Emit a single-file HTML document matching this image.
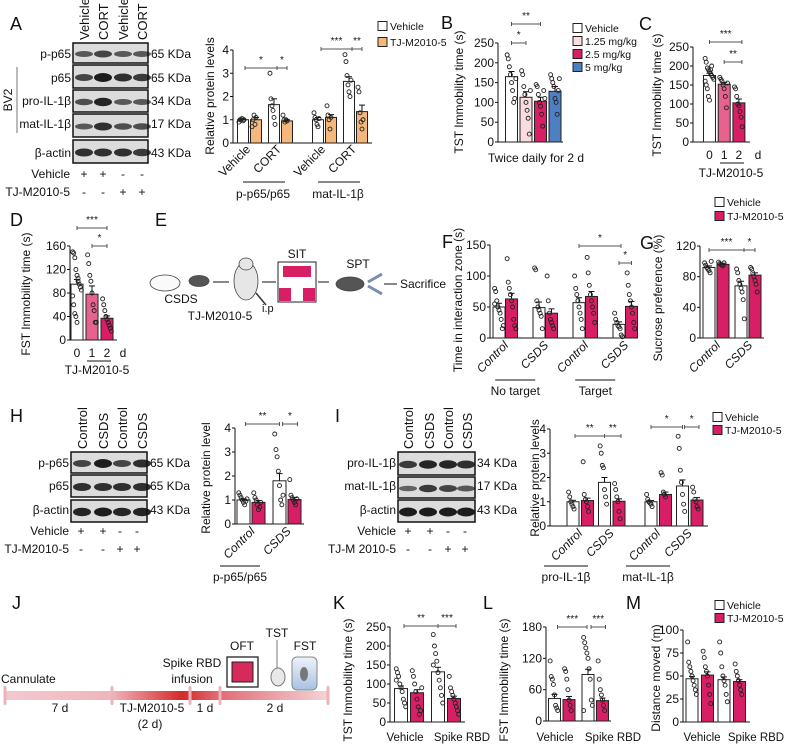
<!DOCTYPE html>
<html><head><meta charset="utf-8">
<style>
html,body{margin:0;padding:0;background:#fff;}
svg{display:block;font-family:"Liberation Sans",Arial,sans-serif;}
</style></head>
<body>
<svg id="fig" width="787" height="744" viewBox="0 0 787 744" xmlns="http://www.w3.org/2000/svg">
<defs>
<linearGradient id="tl" x1="0" x2="1" y1="0" y2="0">
<stop offset="0" stop-color="#f3c9cf"/><stop offset="0.33" stop-color="#f0b5bd"/><stop offset="0.55" stop-color="#d42a2a"/><stop offset="0.66" stop-color="#e06a74"/><stop offset="1" stop-color="#f5d3d8"/>
</linearGradient>
<linearGradient id="cyl" x1="0" x2="0" y1="0" y2="1"><stop offset="0" stop-color="#eef3fb"/><stop offset="1" stop-color="#a9c1e3"/></linearGradient>
</defs>
</svg>
<script>
// ---------- DATA ----------
const catA = ["Vehicle","CORT","Vehicle","CORT"];
const groupsA = ["p-p65/p65","mat-IL-1β"];
const valsA = [1.0,1.0,1.65,0.95,1.0,1.1,2.65,1.35];
const errA = [0.03,0.1,0.25,0.05,0.1,0.12,0.2,0.28];
const dotsA = [[0.9,1,1,1.05,0.95,1.0],[0.7,1.0,1.2,0.8,1.1],[3.0,1.9,1.6,1.4,1.1,0.8],[1.2,1.0,0.9,1.0,0.95],[1.3,1.1,1.0,0.8,0.7,1.05],[1.6,1.2,1.0,0.6,1.1],[3.8,3.5,2.9,2.5,2.2,2.0,2.7],[2.4,2.2,1.3,0.9,0.6,1.0]];
const ticksA = [0,1,2,3,4];

const catB = ["Vehicle","1.25 mg/kg","2.5 mg/kg","5 mg/kg"];
const valsB = [165,113,103,128];
const errB = [13,14,10,12];
const dotsB = [[220,210,190,170,150,130,100,110,160],[180,170,140,120,100,80,60,20,130],[145,140,120,100,90,70,40,130,110],[170,160,150,140,110,100,70,130,160]];
const ticksB = [0,50,100,150,200,250];

const catC = ["0","1","2"];
const valsC = [175,152,103];
const errC = [6,5,10];
const dotsC = [[220,210,195,190,185,180,175,170,165,160,150,140,120,110,190,200],[170,165,160,150,140,120,90,155],[145,140,120,100,95,80,65,40]];
const ticksC = [0,50,100,150,200,250];

const catD = ["0","1","2"];
const valsD = [95,78,37];
const errD = [8,14,4];
const dotsD = [[150,148,140,120,110,100,95,90,85,75,60,45,40,30,105],[145,130,110,100,80,60,50,30,30],[70,60,50,40,35,30,25,20,15]];
const ticksD = [0,40,80,120,160];

const catF = ["Control","CSDS","Control","CSDS"];
const groupsF = ["No target","Target"];
const valsF = [50,63,49,40,57,67,22,51];
const errF = [6,9,9,7,8,8,4,8];
const dotsF = [[80,75,60,50,45,40,30,15,20,55],[128,90,80,70,60,50,30,20,15],[113,110,60,50,45,40,35,15],[100,60,40,30,25,20,15],[100,80,70,60,50,40,30,15],[130,105,85,70,60,50,40,25],[40,30,25,20,18,15,5,2],[105,85,70,60,50,40,25,15]];
const ticksF = [0,50,100,150];

const catG = ["Control","CSDS"];
const valsG = [92,96,68,82];
const errG = [2,1.5,6,3];
const dotsG = [[98,95,92,90,88,85,100],[99,97,96,95,94,98],[90,85,75,70,65,60,50,25],[92,90,85,80,75,70,60]];
const ticksG = [0,40,80,120];

const catH = ["Control","CSDS"];
const valsH = [1.0,0.9,1.8,1.02];
const errH = [0.05,0.08,0.3,0.08];
const dotsH = [[1.3,1.2,1.1,1.0,0.9,0.8,0.95,1.05],[1.3,1.1,1.0,0.8,0.6,0.7,0.9],[3.75,3.1,2.8,2.2,1.6,1.0,0.8,1.2],[1.85,1.2,1.1,1.0,0.9,0.8,1.05]];
const ticksH = [0,1,2,3,4];

const catI = ["Control","CSDS","Control","CSDS"];
const groupsI = ["pro-IL-1β","mat-IL-1β"];
const valsI = [1.0,1.05,1.8,1.02,1.0,1.3,1.65,1.07];
const errI = [0.06,0.1,0.2,0.1,0.05,0.1,0.25,0.1];
const dotsI = [[1.4,1.2,1.0,0.9,0.8,0.7],[2.65,1.3,1.1,1.0,0.8,0.6],[3.3,3.0,2.5,2.4,1.5,1.2,0.9],[1.75,1.5,1.2,1.0,0.6,0.3],[1.3,1.1,1.0,0.95,0.9,0.8],[2.2,2.1,1.4,1.3,1.2],[3.7,3.2,2.3,1.8,1.3,0.9,0.6],[1.6,1.4,1.1,1.0,0.8,0.7]];
const ticksI = [0,1,2,3,4];

const catK = ["Vehicle","Spike RBD"];
const valsK = [88,77,132,62];
const errK = [7,8,12,6];
const dotsK = [[140,130,120,100,90,80,60,50,40,110],[135,120,100,80,60,40,20,30,90],[230,200,180,160,130,110,90,70,50,150],[120,90,80,70,60,50,40,30,20]];
const ticksK = [0,50,100,150,200,250];

const catL = ["Vehicle","Spike RBD"];
const valsL = [43,41,89,39];
const errL = [8,6,10,5];
const dotsL = [[115,85,80,70,50,30,25,20],[100,95,80,60,40,30,20],[160,150,140,130,120,100,80,40,30,20],[115,80,60,50,40,30,20]];
const ticksL = [0,60,120,180];

const catM = ["Vehicle","Spike RBD"];
const valsM = [47,51,46,44];
const errM = [2.5,3.5,3,2];
const dotsM = [[87,65,60,55,50,45,40,35,30],[77,70,60,55,50,40,30,20],[87,75,60,50,45,40,30,22],[63,55,50,45,40,35,30]];
const ticksM = [0,25,50,75,100];

// ---------- HELPERS ----------
const NS = "http://www.w3.org/2000/svg";
const svg = document.getElementById("fig");
function mk(tag, parent){ const e=document.createElementNS(NS,tag); (parent||svg).appendChild(e); return e; }
function txt(x,y,s,size,anchor,parent,extra){
  const t=mk("text",parent); t.setAttribute("x",x); t.setAttribute("y",y);
  t.setAttribute("font-size",size||11); t.setAttribute("text-anchor",anchor||"start"); t.setAttribute("fill","#111");
  if(extra){ for(const k in extra) t.setAttribute(k,extra[k]); }
  t.textContent=s; return t;
}
function line(x1,y1,x2,y2,parent,stroke,w){
  const l=mk("line",parent); l.setAttribute("x1",x1);l.setAttribute("y1",y1);l.setAttribute("x2",x2);l.setAttribute("y2",y2);
  l.setAttribute("stroke",stroke||"#111"); l.setAttribute("stroke-width",w||1); return l;
}
function group(name){ const g=mk("g");   return g; }

function barChart(p){
  const g=group(p.name);
  const y=v=>p.y0-v/p.vmax*(p.y0-p.yTop);
  const ya=line(p.ax,p.y0,p.ax,p.yTop,g);
  
  const xa=line(p.ax,p.y0,p.xEnd,p.y0,g);
  
  p.ticks.forEach(t=>{
    line(p.ax-3,y(t),p.ax,y(t),g);
    const tl=txt(p.ax-4,y(t)+4,String(t),p.tickSize||12,"end",g);
    
  });
  p.values.forEach((v,i)=>{
    const cx=p.xFn(i), bw=p.bw;
    const r=mk("rect",g); r.setAttribute("x",cx-bw/2); r.setAttribute("y",y(v)); r.setAttribute("width",bw); r.setAttribute("height",p.y0-y(v));
    r.setAttribute("fill",p.colors[i%p.colors.length]); r.setAttribute("stroke","#222"); r.setAttribute("stroke-width",1);
    
    
    const e=p.errs[i];
    line(cx,y(v),cx,y(v+e),g); line(cx-3,y(v+e),cx+3,y(v+e),g);
    (p.dots[i]||[]).forEach((d,j)=>{
      const c=mk("circle",g); c.setAttribute("cx",cx+(((j*37)%9)-4)*bw/11); c.setAttribute("cy",y(d)); c.setAttribute("r",2);
      c.setAttribute("fill","none"); c.setAttribute("stroke","#222"); c.setAttribute("stroke-width",0.9);
      
    });
  });
  const yt=txt(0,0,p.ytitle,p.titleSize||12,"middle",g,{transform:`translate(${p.ytx},${p.yty}) rotate(-90)`});
  
  return {g,y};
}
function sig(g,x1,x2,yy,label){
  line(x1,yy,x2,yy,g,"#555"); line(x1,yy-2,x1,yy+2,g,"#555"); line(x2,yy-2,x2,yy+2,g,"#555");
  const t=txt((x1+x2)/2,yy-5,label,10,"middle",g);
  
}
function rotLabel(g,x,y,s,italic){
  const t=txt(0,0,s,12,"end",g,{transform:`translate(${x},${y}) rotate(-45)`});
  if(italic) t.setAttribute("font-style","italic");
  
}
function panelLetter(x,y,s){
  const t=txt(x,y,s,18,"start");
  
}
function legend(x,ys,labels,colors){
  const g=group("legend");
  labels.forEach((l,i)=>{
    const r=mk("rect",g); r.setAttribute("x",x); r.setAttribute("y",ys[i]-4.5); r.setAttribute("width",9); r.setAttribute("height",9);
    r.setAttribute("fill",colors[i]); r.setAttribute("stroke","#222");
    
    const t=txt(x+12,ys[i]+4,l,10.5,"start",g);
    
  });
}
function blot(name,x1,x2,rows,lanes,intens){
  const g=group(name);
  rows.forEach((r,ri)=>{
    const b=mk("rect",g); b.setAttribute("x",x1); b.setAttribute("y",r[0]); b.setAttribute("width",x2-x1); b.setAttribute("height",r[1]-r[0]);
    b.setAttribute("fill","#dcdcdc"); b.setAttribute("stroke","#111"); b.setAttribute("stroke-width",1.5);
    
    const mid=(r[0]+r[1])/2;
    lanes.forEach((lx,li)=>{
      const k=intens[ri][li];
      const e=mk("ellipse",g); e.setAttribute("cx",lx); e.setAttribute("cy",mid+1); e.setAttribute("rx",9); e.setAttribute("ry",2+2.5*k);
      e.setAttribute("fill","#111"); e.setAttribute("opacity",0.45+0.5*k);
    });
  });
  return g;
}
const W="#ffffff", P="#d81e64", O="#f6b77a";

// ---------- PANEL A ----------
panelLetter(10,30,"A");
blot("blot-a",73,148,[[43,63],[65,88],[90,112],[114,137],[140,163]],[84,103,123,142],
 [[0.4,0.6,0.4,0.4],[0.6,1,0.8,0.7],[0.5,0.9,0.4,0.4],[0.4,0.8,0.5,0.5],[0.8,0.8,0.8,0.7]]);
(function(){
  const g=group("blot-a-labels");
  ["Vehicle","CORT","Vehicle","CORT"].forEach((s,i)=>{const x=[89,108,128,147][i]; txt(0,0,s,13,"start",g,{transform:`translate(${x},40) rotate(-90)`});});
  ["p-p65","p65","pro-IL-1β","mat-IL-1β","β-actin"].forEach((s,i)=>txt(71,[58,82,105,128,157][i],s,12,"end",g));
  ["65 KDa","65 KDa","34 KDa","17 KDa","43 KDa"].forEach((s,i)=>txt(151,[58,82,105,128,157][i],s,12,"start",g));
  txt(0,0,"BV2",12,"middle",g,{transform:"translate(12,100) rotate(-90)"}); line(17,67,17,133,g,"#777");
  txt(70,178,"Vehicle",12,"end",g); txt(70,196,"TJ-M2010-5",12,"end",g);
  ["+","+","-","-"].forEach((s,i)=>txt([84,103,123,142][i],178,s,12,"middle",g));
  ["-","-","+","+"].forEach((s,i)=>txt([84,103,123,142][i],196,s,12,"middle",g));
})();
const xA=i=>243+(i%2)*13+Math.floor(i/2)*31+Math.floor(i/4)*13;
(function(){
  const c=barChart({name:"chart-a",ax:233,xEnd:372,y0:143,yTop:50,vmax:4,ticks:ticksA,xFn:xA,bw:11,values:valsA,errs:errA,dots:dotsA,colors:[W,O],ytitle:"Relative protein levels",ytx:214,yty:96});
  catA.forEach((s,k)=>rotLabel(c.g,xA(k*2)+8,150,s,false));
  groupsA.forEach((s,gi)=>{const cx=(xA(gi*4)+xA(gi*4+3))/2; line(cx-22,182,cx+20,182,c.g); txt(cx-2,198,s,12,"middle",c.g);});
  sig(c.g,xA(0)+2,xA(2)+3,68,"*"); sig(c.g,xA(2)+3,xA(3),68,"*");
  sig(c.g,xA(4)+3,xA(6)+3,49,"***"); sig(c.g,xA(6)+3,xA(7),49,"**");
})();
legend(378,[26,42],["Vehicle","TJ-M2010-5"],[W,O]);

// ---------- PANEL B ----------
panelLetter(441,29,"B");
const xB=i=>511.5+i*14.5;
(function(){
  const c=barChart({name:"chart-b",ax:498,xEnd:563,y0:142,yTop:43,vmax:250,ticks:ticksB,xFn:xB,bw:12,values:valsB,errs:errB,dots:dotsB,colors:[W,"#f9dbe0","#d81e64","#4e7fc2"],ytitle:"TST Immobility time (s)",ytx:463,yty:92});
  const t=txt(536,162,"Twice daily for 2 d",12,"middle",c.g);
  
  sig(c.g,xB(0),xB(2),24,"**"); sig(c.g,xB(0),xB(1),43,"*");
})();
legend(573,[28,41,54,67],catB,[W,"#f9dbe0","#d81e64","#4e7fc2"]);

// ---------- PANEL C ----------
panelLetter(639,30,"C");
const xC=i=>709.5+i*14.7;
(function(){
  const c=barChart({name:"chart-c",ax:693,xEnd:750,y0:142,yTop:47,vmax:250,ticks:ticksC,xFn:xC,bw:12,values:valsC,errs:errC,dots:dotsC,colors:[W,"#e8628f","#d81e64"],ytitle:"TST Immobility time (s)",ytx:661,yty:95});
  catC.forEach((s,i)=>txt(xC(i),159,s,12,"middle",c.g)); txt(758,159,"d",12,"middle",c.g);
  line(720,163,744,163,c.g); txt(731,177,"TJ-M2010-5",12,"middle",c.g);
  sig(c.g,xC(0),xC(2)+3,42,"***"); sig(c.g,xC(1),xC(2)+3,62,"**");
})();

// ---------- PANEL D ----------
panelLetter(10,226,"D");
const xD=i=>77+i*15;
(function(){
  const c=barChart({name:"chart-d",ax:70,xEnd:117,y0:340,yTop:246,vmax:160,ticks:ticksD,xFn:xD,bw:12,values:valsD,errs:errD,dots:dotsD,colors:[W,"#e8628f","#d81e64"],ytitle:"FST Immobility time (s)",ytx:30,yty:294});
  catD.forEach((s,i)=>txt(xD(i),357,s,12,"middle",c.g)); txt(123,357,"d",12,"middle",c.g);
  line(87,361,111,361,c.g); txt(97,374,"TJ-M2010-5",12,"middle",c.g);
  sig(c.g,xD(0),xD(2),228,"***"); sig(c.g,xD(1),xD(2),246,"*");
})();

// ---------- PANEL E ----------
panelLetter(155,226,"E");
(function(){
  const g=group("experiment-diagram-e");
  function mouse(x,y,w,h,fill){const e=mk("ellipse",g);e.setAttribute("cx",x);e.setAttribute("cy",y);e.setAttribute("rx",w);e.setAttribute("ry",h);e.setAttribute("fill",fill);e.setAttribute("stroke","#444");e.setAttribute("stroke-width",0.8);return e;}
  mouse(165,283,15,8,"#fafafa"); mouse(199,281,10,5.5,"#555");
  line(213,282,229,282,g);
  mouse(246,281,12,19,"#e6e6e6"); mouse(246,264,7,6,"#e6e6e6");
  line(256,293,266,305,g,"#333",1.5);
  txt(181,303,"CSDS",12,"middle",g); txt(220,320,"TJ-M2010-5",12,"middle",g); txt(262,312,"i.p",11,"start",g);
  line(262,282,276,282,g);
  const b=mk("rect",g); b.setAttribute("x",278);b.setAttribute("y",262);b.setAttribute("width",38);b.setAttribute("height",40);b.setAttribute("fill","#fff");b.setAttribute("stroke","#222");
  
  [[283,266,28,11],[279,288,12,13],[303,288,12,13]].forEach(r=>{const q=mk("rect",g);q.setAttribute("x",r[0]);q.setAttribute("y",r[1]);q.setAttribute("width",r[2]);q.setAttribute("height",r[3]);q.setAttribute("fill","#d81e64");});
  txt(297,258,"SIT",12,"middle",g);
  line(318,282,329,282,g);
  mouse(350,284,14,7,"#555"); txt(358,268,"SPT",12,"middle",g);
  line(368,282,382,274,g,"#7a8fb0",3); line(368,286,382,294,g,"#7a8fb0",3);
  line(384,284,397,284,g); txt(400,288,"Sacrifice",12,"start",g);
})();

// ---------- PANEL F ----------
panelLetter(442,248,"F");
const xF=i=>499+(i%2)*12.5+(Math.floor(i/2)%2)*40+Math.floor(i/4)*80;
(function(){
  const c=barChart({name:"chart-f",ax:490,xEnd:638,y0:338,yTop:245,vmax:150,ticks:ticksF,xFn:xF,bw:12,values:valsF,errs:errF,dots:dotsF,colors:[W,P],ytitle:"Time in interaction zone (s)",ytx:462,yty:300});
  [0,1,2,3].forEach(k=>rotLabel(c.g,xF(k*2)+10,346,catF[k],true));
  groupsF.forEach((s,gi)=>{const cx=(xF(gi*4)+xF(gi*4+3))/2-10; line(cx-20,380,cx+20,380,c.g); txt(cx,395,s,12,"middle",c.g);});
  sig(c.g,xF(4),xF(6)+2,246,"*"); sig(c.g,xF(6),xF(7),263,"*");
})();

// ---------- PANEL G ----------
panelLetter(640,249,"G");
const xG=i=>709+(i%2)*14+Math.floor(i/2)*32;
(function(){
  const c=barChart({name:"chart-g",ax:700,xEnd:764,y0:338,yTop:246,vmax:120,ticks:ticksG,xFn:xG,bw:12,values:valsG,errs:errG,dots:dotsG,colors:[W,P],ytitle:"Sucrose preference (%)",ytx:662,yty:298});
  [0,1].forEach(k=>rotLabel(c.g,xG(k*2)+12,346,catG[k],true));
  sig(c.g,xG(0),xG(2)+3,250,"***"); sig(c.g,xG(2)+3,xG(3),250,"*");
})();
legend(715,[202,216],["Vehicle","TJ-M2010-5"],[W,P]);

// ---------- PANEL H ----------
panelLetter(10,422,"H");
blot("blot-h",71,147,[[452,473],[475,497],[500,522]],[82,103,122,142],[[0.6,1,0.6,0.8],[0.8,0.8,0.8,0.8],[0.9,1,0.9,0.9]]);
(function(){
  const g=group("blot-h-labels");
  ["Control","CSDS","Control","CSDS"].forEach((s,i)=>txt(0,0,s,13,"start",g,{transform:`translate(${[87,108,127,147][i]},449) rotate(-90)`}));
  ["p-p65","p65","β-actin"].forEach((s,i)=>txt(69,[467,490,514][i],s,12,"end",g));
  ["65 KDa","65 KDa","43 KDa"].forEach((s,i)=>txt(150,[467,490,514][i],s,12,"start",g));
  txt(69,535,"Vehicle",12,"end",g); txt(69,553,"TJ-M2010-5",12,"end",g);
  ["+","+","-","-"].forEach((s,i)=>txt([81,103,120,137][i],535,s,12,"middle",g));
  ["-","-","+","+"].forEach((s,i)=>txt([81,103,120,137][i],553,s,12,"middle",g));
})();
const xH=i=>243.5+(i%2)*15+Math.floor(i/2)*36;
(function(){
  const c=barChart({name:"chart-h",ax:235,xEnd:304,y0:524,yTop:428,vmax:4,ticks:ticksH,xFn:xH,bw:13,values:valsH,errs:errH,dots:dotsH,colors:[W,P],ytitle:"Relative protein level",ytx:210,yty:478});
  [0,1].forEach(k=>rotLabel(c.g,xH(k*2)+12,532,catH[k],true));
  line(220,566,260,566,c.g); txt(240,581,"p-p65/p65",12,"middle",c.g);
  sig(c.g,xH(0)+2,xH(2),424,"**"); sig(c.g,xH(2)+3,xH(3)+3,424,"*");
})();

// ---------- PANEL I ----------
panelLetter(335,422,"I");
blot("blot-i",398,475,[[452,475],[477,498],[500,522]],[408,428,448,466],[[0.7,0.9,0.9,0.8],[0.3,0.7,0.6,0.4],[1,1,1,1]]);
(function(){
  const g=group("blot-i-labels");
  ["Control","CSDS","Control","CSDS"].forEach((s,i)=>txt(0,0,s,13,"start",g,{transform:`translate(${[413,434,453,472][i]},449) rotate(-90)`}));
  ["pro-IL-1β","mat-IL-1β","β-actin"].forEach((s,i)=>txt(396,[467,490,514][i],s,12,"end",g));
  ["34 KDa","17 KDa","43 KDa"].forEach((s,i)=>txt(477,[467,490,514][i],s,12,"start",g));
  txt(396,535,"Vehicle",12,"end",g); txt(396,553,"TJ-M 2010-5",12,"end",g);
  ["+","+","-","-"].forEach((s,i)=>txt([408,430,448,465][i],535,s,12,"middle",g));
  ["-","-","+","+"].forEach((s,i)=>txt([408,430,448,465][i],553,s,12,"middle",g));
})();
const xI=i=>573+(i%2)*14.5+Math.floor(i/2)*31.5+Math.floor(i/4)*15;
(function(){
  const c=barChart({name:"chart-i",ax:550,xEnd:708,y0:526,yTop:429,vmax:4,ticks:ticksI,xFn:xI,bw:12,values:valsI,errs:errI,dots:dotsI,colors:[W,P],ytitle:"Relative protein levels",ytx:539,yty:478});
  [0,1,2,3].forEach(k=>rotLabel(c.g,xI(k*2)+10,534,catI[k],true));
  groupsI.forEach((s,gi)=>{const cx=[566,648][gi]; line(cx-22,566,cx+22,566,c.g); txt(cx,581,s,12,"middle",c.g);});
  sig(c.g,xI(0)+2,xI(2),436,"**"); sig(c.g,xI(2),xI(3)+2,436,"**");
  sig(c.g,xI(4),xI(6),427,"*"); sig(c.g,xI(6)+2,xI(7)+2,427,"*");
})();
legend(713,[417,430],["Vehicle","TJ-M2010-5"],[W,P]);

// ---------- PANEL J ----------
panelLetter(12,609,"J");
(function(){
  const g=group("timeline-j");
  const r=mk("rect",g); r.setAttribute("x",4);r.setAttribute("y",691);r.setAttribute("width",324);r.setAttribute("height",9);r.setAttribute("fill","url(#tl)");
  
  [5,112,190,220,328].forEach(x=>{const t=mk("rect",g);t.setAttribute("x",x-1.5);t.setAttribute("y",686);t.setAttribute("width",3);t.setAttribute("height",19);t.setAttribute("fill","#eab4bc");t.setAttribute("rx",1.5);});
  txt(1,683,"Cannulate",12,"start",g); txt(60,712,"7 d",12,"middle",g);
  txt(152,712,"TJ-M2010-5",12,"middle",g); txt(150,728,"(2 d)",12,"middle",g);
  txt(205,712,"1 d",12,"middle",g); txt(275,712,"2 d",12,"middle",g);
  txt(192,667,"Spike RBD",12,"middle",g); txt(192,683,"infusion",12,"middle",g);
  const o=mk("rect",g);o.setAttribute("x",227);o.setAttribute("y",657);o.setAttribute("width",31);o.setAttribute("height",30);o.setAttribute("fill","#fff");o.setAttribute("stroke","#222");o.setAttribute("stroke-width",1.3);
  const oi=mk("rect",g);oi.setAttribute("x",232);oi.setAttribute("y",662);oi.setAttribute("width",21);oi.setAttribute("height",20);oi.setAttribute("fill","#d42b5a");oi.setAttribute("stroke","#222");
  txt(242,650,"OFT",12,"middle",g); txt(277,637,"TST",12,"middle",g);
  line(277,640,277,668,g,"#777");
  const m=mk("ellipse",g);m.setAttribute("cx",278);m.setAttribute("cy",677);m.setAttribute("rx",7);m.setAttribute("ry",9);m.setAttribute("fill","#e8e8e8");m.setAttribute("stroke","#777");
  const cy=mk("rect",g);cy.setAttribute("x",292);cy.setAttribute("y",657);cy.setAttribute("width",25);cy.setAttribute("height",33);cy.setAttribute("rx",5);cy.setAttribute("fill","url(#cyl)");cy.setAttribute("stroke","#888");
  const mm=mk("ellipse",g);mm.setAttribute("cx",304);mm.setAttribute("cy",674);mm.setAttribute("rx",4);mm.setAttribute("ry",7);mm.setAttribute("fill","#777");
  txt(305,650,"FST",12,"middle",g);
})();

// ---------- PANEL K ----------
panelLetter(333,609,"K");
const xK=i=>401+(i%2)*16+Math.floor(i/2)*37;
(function(){
  const c=barChart({name:"chart-k",ax:390,xEnd:465,y0:722,yTop:627,vmax:250,ticks:ticksK,xFn:xK,bw:13,values:valsK,errs:errK,dots:dotsK,colors:[W,P],ytitle:"TST Immobility time (s)",ytx:352,yty:680});
  catK.forEach((s,k)=>{const t=txt([405,462][k],741,s,11.5,"middle",c.g); });
  sig(c.g,xK(0)+3,xK(2),626,"**"); sig(c.g,xK(2),xK(3)+2,626,"***");
})();

// ---------- PANEL L ----------
panelLetter(483,609,"L");
const xL=i=>554.5+(i%2)*14.5+Math.floor(i/2)*33.5;
(function(){
  const c=barChart({name:"chart-l",ax:546,xEnd:611,y0:721,yTop:627,vmax:180,ticks:ticksL,xFn:xL,bw:12,values:valsL,errs:errL,dots:dotsL,colors:[W,P],ytitle:"FST Immobility time (s)",ytx:508,yty:680});
  catL.forEach((s,k)=>{const t=txt([555,613][k],741,s,11.5,"middle",c.g); });
  sig(c.g,xL(0)+3,xL(2)-1,627,"***"); sig(c.g,xL(2)+3,xL(3)+3,627,"***");
})();

// ---------- PANEL M ----------
panelLetter(626,609,"M");
const xM=i=>692+(i%2)*15.5+Math.floor(i/2)*32;
(function(){
  const c=barChart({name:"chart-m",ax:683,xEnd:750,y0:722,yTop:630,vmax:100,ticks:ticksM,xFn:xM,bw:12,values:valsM,errs:errM,dots:dotsM,colors:[W,P],ytitle:"Distance moved (m)",ytx:660,yty:678});
  catM.forEach((s,k)=>{const t=txt([702,756][k],741,s,11.5,"middle",c.g); });
})();
legend(715,[605,618],["Vehicle","TJ-M2010-5"],[W,P]);
</script>
</body></html>
